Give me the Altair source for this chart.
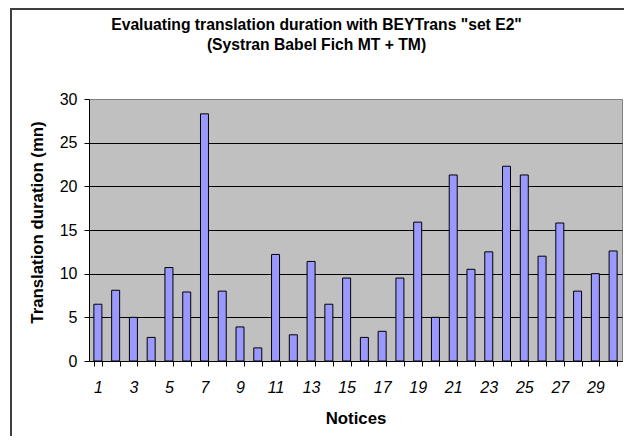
import altair as alt
import pandas as pd

notices = list(range(1, 31))
durations = [6.5, 8.1, 5.0, 2.7, 10.7, 7.9, 28.3, 8.0, 3.9, 1.5,
             12.2, 3.0, 11.4, 6.5, 9.5, 2.7, 3.4, 9.5, 15.9, 5.0,
             21.3, 10.5, 12.5, 22.3, 21.3, 12.0, 15.8, 8.0, 10.0, 12.6]
y_ticks = [0, 5, 10, 15, 20, 25, 30]

df = pd.DataFrame({"notice": notices, "duration": durations})

FONT = "Liberation Sans"

bars = alt.Chart(df).mark_bar(
    fill="#9999FF", stroke="black", strokeWidth=1
).encode(
    x=alt.X("notice:O", title="Notices",
            scale=alt.Scale(paddingInner=0.55, paddingOuter=0.275),
            axis=alt.Axis(labelAngle=0, tickBand="extent",
                          labelExpr="datum.value % 2 == 1 ? datum.label : ''",
                          labelFont=FONT, labelFontSize=16, labelFontStyle="italic",
                          labelColor="black", labelPadding=13, labelBaseline="top",
                          tickSize=5, tickColor="black", domainColor="black",
                          titleFont=FONT, titleFontSize=16.8, titleFontWeight="bold",
                          titleColor="black", titleY=57, titleBaseline="middle",
                          grid=False)),
    y=alt.Y("duration:Q", title="Translation duration (mn)",
            scale=alt.Scale(domain=[0, 30], nice=False),
            axis=alt.Axis(values=y_ticks, labelFont=FONT, labelFontSize=16,
                          labelColor="black", labelPadding=7, tickSize=5,
                          tickColor="black", domainColor="black",
                          grid=True,
                          gridColor=alt.condition("datum.value == 30",
                                                  alt.value("#808080"),
                                                  alt.value("black")),
                          gridWidth=1,
                          titleFont=FONT, titleFontSize=16.8, titleFontWeight="bold",
                          titleColor="black", titleX=-52, titleY=123,
                          titleBaseline="middle", titleAngle=-90)),
)

border = alt.Chart(df).mark_rect(
    fill=None, stroke="#404040", strokeWidth=2
).encode(
    x=alt.value(-78), x2=alt.value(560),
    y=alt.value(-90), y2=alt.value(400),
)

chart = alt.layer(bars, border).properties(
    width=533, height=262,
    padding={"left": 81, "top": 91, "right": 2, "bottom": 75},
    autosize="none",
    title=alt.TitleParams(
        text=['Evaluating translation duration with BEYTrans "set E2"',
              "(Systran Babel Fich MT + TM)"],
        font=FONT, fontSize=15.7, fontWeight="bold", color="black",
        anchor="middle", dx=-39, lineHeight=20.5, offset=0, dy=46, frame="group",
    ),
).configure_view(
    fill="#C0C0C0", stroke="#808080", strokeWidth=1
)

chart.save("out.html", embed_options={"renderer": "svg", "actions": False})
